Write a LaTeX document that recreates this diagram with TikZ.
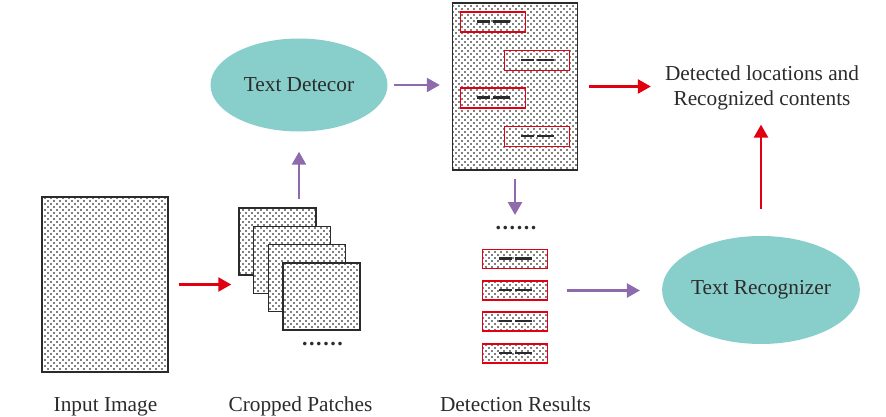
\documentclass[tikz,border=0pt]{standalone}
\usepackage{fontspec}
\setmainfont{Liberation Serif}
\usetikzlibrary{arrows.meta,positioning,calc,shapes.geometric,patterns}
\definecolor{aqua}{HTML}{88CFCC}
\definecolor{plum}{HTML}{8D6BAD}
\definecolor{scarlet}{HTML}{E0000F}
\definecolor{ink}{HTML}{2B2B2B}
\pgfdeclarepatternformonly{speckle}{\pgfqpoint{-1pt}{-1pt}}{\pgfqpoint{5pt}{5pt}}%
  {\pgfqpoint{6pt}{6pt}}{%
  \pgfpathcircle{\pgfqpoint{0pt}{0pt}}{.9pt}%
  \pgfpathcircle{\pgfqpoint{3pt}{3pt}}{.9pt}%
  \pgfusepath{fill}}

\begin{document}
\begin{tikzpicture}[x=1pt,y=-1pt,
  font=\fontsize{21.3}{25.5}\selectfont,
  sheet/.style={draw=ink,line width=1.4pt,preaction={fill=white},
    pattern=speckle,pattern color=black,inner sep=0pt},
  blob/.style={ellipse,fill=aqua,inner sep=0pt,text=ink},
  dashes/.style={path picture={\draw[ink,line width=2.4pt]
      ([xshift=-16pt,yshift=0.5pt]path picture bounding box.center) -- ++(13pt,0)
      ([yshift=0.5pt]path picture bounding box.center) -- ++(17pt,0);}},
  tbox/.style={draw=scarlet,line width=1.6pt,minimum width=65pt,
    minimum height=20pt,inner sep=0pt,dashes},
  rbox/.style={sheet,draw=scarlet,line width=1.5pt,minimum width=65pt,
    minimum height=19pt,dashes},
  dotrow/.style={inner sep=0pt,text=ink,font=\fontsize{22}{25.5}\selectfont
    \bfseries\addfontfeature{LetterSpace=7}},
  caption/.style={anchor=base,text=ink},
  redarr/.style={-{Triangle[length=13pt,width=14pt]},line width=2.5pt,scarlet},
  purarr/.style={-{Triangle[length=13pt,width=14pt]},line width=2.5pt,plum}]
\useasboundingbox (0,0) rectangle (886,417);
\node[sheet,minimum width=126pt,minimum height=175pt] (input) at (105,284.5) {};
\foreach \i in {0,...,3}
  \node[sheet,minimum width=77pt,minimum height=67pt] (p\i)
    at (277.5+14.7*\i,241.5+18.3*\i) {};
\node[dotrow] (dotsP) at (322.5,344) {......};
\node[blob,minimum width=177pt,minimum height=93pt] (detector) at (299,85) {Text Detecor};
\node[sheet,minimum width=125pt,minimum height=167pt] (page) at (515,86.5) {};
\node[tbox] (b1) at (493,22) {};
\node[tbox] (b2) at (537,60.5) {};
\node[tbox] (b3) at (493,98) {};
\node[tbox] (b4) at (537,136.5) {};
\node[dotrow] (dotsR) at (516,228) {......};
\node[rbox] (r1) at (515,259) {};
\node[rbox] (r2) at (515,290.5) {};
\node[rbox] (r3) at (515,321.5) {};
\node[rbox] (r4) at (515,353.5) {};
\node[blob,minimum width=177pt,minimum height=108pt] (recognizer) at (761,290) {Text Recognizer};
\node[align=center,inner sep=0pt,text=ink] (out) at (762,88)
  {Detected locations and\\Recognized contents};
\node[caption] (capI) at (105.5,411) {Input Image};
\node[caption] (capP) at (300.5,411) {Cropped Patches};
\node[caption] (capD) at (515.5,411) {Detection Results};
\draw[redarr,shorten <=10pt,shorten >=7pt] (input.east) -- (input.east -| p0.west);
\draw[purarr,shorten <=8pt,shorten >=20pt] (detector.south |- p0.north) -- (detector.south);
\draw[purarr,shorten <=6pt,shorten >=12pt] (detector.east) -- (detector.east -| page.west);
\draw[redarr,shorten <=11pt,shorten >=14pt] (page.east) -- (page.east -| out.west);
\draw[purarr,shorten <=8pt,shorten >=13pt] (page.south) -- (page.south |- dotsR.center);
\draw[purarr,shorten <=19pt,shorten >=22pt] (r2.east) -- (r2.east -| recognizer.west);
\draw[redarr,shorten <=27pt,shorten >=14pt] (recognizer.north) -- (recognizer.north |- out.south);
\end{tikzpicture}
\end{document}
